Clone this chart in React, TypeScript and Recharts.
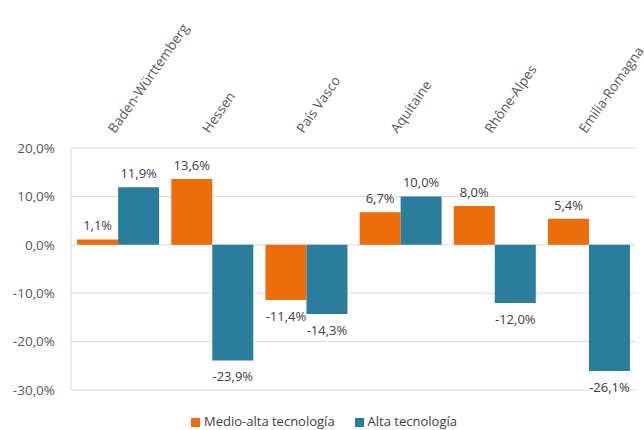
import { Bar, BarChart, CartesianGrid, LabelList, Legend, XAxis, YAxis } from "recharts"

const regions = ["Baden-Württemberg", "Hessen", "País Vasco", "Aquitaine", "Rhône-Alpes", "Emilia-Romagna"]
const medioAlta = [1.1, 13.6, -11.4, 6.7, 8.0, 5.4]
const alta = [11.9, -23.9, -14.3, 10.0, -12.0, -26.1]
const yTicks = [-30, -20, -10, 0, 10, 20]
const seriesOrder = ["Medio-alta tecnología", "Alta tecnología"]

const ORANGE = "#ec6d0c"
const TEAL = "#2b7e9b"
const FONT = "'Open Sans', 'Liberation Sans', sans-serif"

const data = regions.map((name, i) => ({ name, medio: medioAlta[i], alta: alta[i] }))

const pct = (v: number) => `${v.toFixed(1).replace(".", ",")}%`

// rotated region names above the plot (the last one runs past the edge, as in the source)
const RegionTick = (props: any) => {
  const { x, y, payload } = props
  const x0 = x - 3
  return (
    <text
      x={x0}
      y={y}
      transform={`rotate(-55, ${x0}, ${y})`}
      textAnchor="start"
      fontSize={13.5}
      fontFamily={FONT}
      fill="#595959"
    >
      {payload.value}
    </text>
  )
}

const ValueLabel = (props: any) => {
  const { x, y, width, height, value } = props
  const top = Math.min(y, y + height)
  const bottom = Math.max(y, y + height)
  const ly = value < 0 ? bottom + 21 : top - 9
  return (
    <text x={x + width / 2} y={ly} textAnchor="middle" fontSize={13} fontFamily={FONT} fill="#404040">
      {pct(value)}
    </text>
  )
}

export default function App() {
  return (
    <div style={{ position: "absolute", left: 0, top: 0, background: "#fff" }}>
      <BarChart
        width={644}
        height={430}
        data={data}
        margin={{ top: 118, right: 8, bottom: 40, left: 6 }}
        barGap={0}
        barCategoryGap="6.5%"
      >
        <CartesianGrid vertical={false} stroke="#d9d9d9" />
        <XAxis
          dataKey="name"
          orientation="top"
          height={30}
          axisLine={false}
          tickLine={false}
          tickMargin={8}
          interval={0}
          tick={<RegionTick />}
        />
        <YAxis
          width={65}
          domain={[-30, 20]}
          ticks={yTicks}
          tickFormatter={pct}
          axisLine={{ stroke: "#d9d9d9" }}
          tickLine={false}
          tickMargin={10}
          tick={{ fontSize: 13.5, fontFamily: FONT, fill: "#595959" }}
        />
        <Legend
          verticalAlign="middle"
          iconType="square"
          iconSize={9}
          itemSorter={(item: any) => seriesOrder.indexOf(item.value)}
          wrapperStyle={{ top: 414, left: 0, width: 668, fontSize: 13, lineHeight: "15px", fontFamily: FONT }}
          formatter={(value: string) => <span style={{ color: "#404040", marginRight: 10 }}>{value}</span>}
        />
        <Bar dataKey="medio" name={seriesOrder[0]} fill={ORANGE} isAnimationActive={false}>
          <LabelList dataKey="medio" content={<ValueLabel />} />
        </Bar>
        <Bar dataKey="alta" name={seriesOrder[1]} fill={TEAL} isAnimationActive={false}>
          <LabelList dataKey="alta" content={<ValueLabel />} />
        </Bar>
      </BarChart>
    </div>
  )
}
